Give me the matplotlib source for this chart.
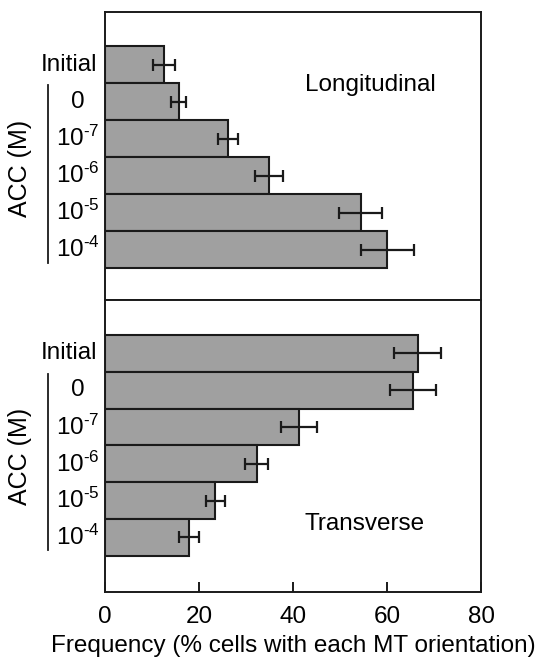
import matplotlib
matplotlib.use("Agg")
import matplotlib.pyplot as plt

plt.rcParams["font.family"] = ["Liberation Sans", "DejaVu Sans"]
plt.rcParams["mathtext.fontset"] = "custom"
plt.rcParams["mathtext.rm"] = "Liberation Sans"
plt.rcParams["mathtext.it"] = "Liberation Sans:italic"

labels = ["Initial", "0", r"10$^{\text{-}7}$", r"10$^{\text{-}6}$",
          r"10$^{\text{-}5}$", r"10$^{\text{-}4}$"]
long_vals = [12.6, 15.7, 26.2, 34.9, 54.4, 60.1]
long_err = [2.3, 1.6, 2.1, 3.0, 4.6, 5.6]
trans_vals = [66.5, 65.6, 41.3, 32.3, 23.5, 17.9]
trans_err = [5.0, 4.9, 3.75, 2.45, 2.1, 2.1]
panel_names = ["Longitudinal", "Transverse"]

FS = 17.5
BAR = "#a0a0a0"
EDGE = "#1a1a1a"

fig = plt.figure(figsize=(5.39, 6.59), dpi=100)
ax_top = fig.add_axes([0.1948, 0.5448, 0.6976, 0.437])
ax_bot = fig.add_axes([0.1948, 0.1017, 0.6976, 0.443])

pos = list(range(len(labels)))


def draw_panel(ax, vals, errs, name, name_xy, ylim):
    ax.barh(pos, vals, height=1.0, color=BAR, edgecolor=EDGE, linewidth=1.5)
    ax.errorbar(vals, pos, xerr=errs, fmt="none", ecolor=EDGE,
                elinewidth=1.6, capsize=4.5, capthick=1.6)
    ax.set_xlim(0, 80)
    ax.set_ylim(*ylim)
    ax.set_yticks([])
    for s in ax.spines.values():
        s.set_linewidth(1.4)
        s.set_color(EDGE)
    tr = ax.get_yaxis_transform()
    for i, lab in enumerate(labels):
        if i == 0:
            ax.text(-0.021, pos[i], lab, transform=tr, ha="right",
                    va="center", fontsize=FS)
        else:
            ax.text(-0.072, pos[i], lab, transform=tr, ha="center",
                    va="center", fontsize=FS)
    # bracket line and group label
    ax.plot([-0.152, -0.152], [0.55, 5.35], transform=tr, color=EDGE,
            linewidth=1.3, clip_on=False)
    ax.text(-0.226, 2.8, "ACC (M)", transform=tr, rotation=90,
            ha="center", va="center", fontsize=FS + 0.5)
    ax.text(name_xy[0], name_xy[1], name, ha="center", va="center",
            fontsize=FS)


draw_panel(ax_top, long_vals, long_err, panel_names[0], (56.4, 0.54),
           (6.36, -1.43))
draw_panel(ax_bot, trans_vals, trans_err, panel_names[1], (55.3, 4.63),
           (6.48, -1.45))

ax_top.set_xticks([])
ax_bot.set_xticks([0, 20, 40, 60, 80])
ax_bot.tick_params(axis="x", direction="in", length=7, width=1.4,
                   labelsize=FS, pad=10, color=EDGE)
ax_bot.set_xlabel("Frequency (% cells with each MT orientation)",
                  fontsize=FS, labelpad=5)

fig.savefig("out.png", dpi=100)
